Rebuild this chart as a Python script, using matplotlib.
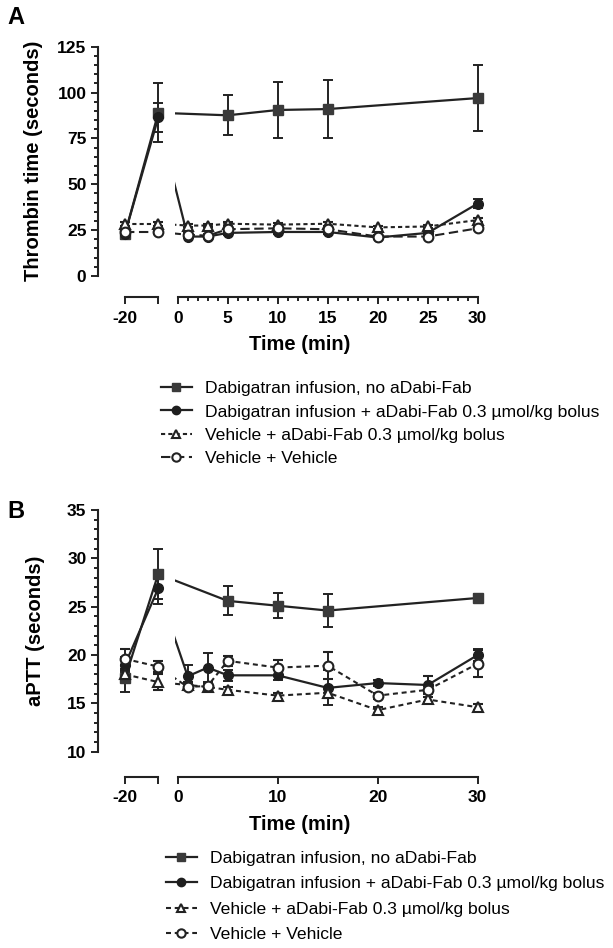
import numpy as np
import matplotlib
matplotlib.use("Agg")
import matplotlib.pyplot as plt
from matplotlib.lines import Line2D
from matplotlib.ticker import MultipleLocator

plt.rcParams['font.family'] = ['Liberation Sans', 'DejaVu Sans']

W, H = 613, 948

# time points (min); -2 = end of dabigatran infusion, just before the bolus
t_all = [-20, -2, 1, 3, 5, 10, 15, 20, 25, 30]
t_sq = [-20, -2, 5, 10, 15, 30]

labels = ["Dabigatran infusion, no aDabi-Fab",
          "Dabigatran infusion + aDabi-Fab 0.3 \u00b5mol/kg bolus",
          "Vehicle + aDabi-Fab 0.3 \u00b5mol/kg bolus",
          "Vehicle + Vehicle"]

# panel A - thrombin time (s)
tt_sq = [23, 89, 87.6, 90.5, 91, 97]
tt_sq_err = [1, 16, 11, 15.5, 15.7, 18]
tt_fc = [23, 86.5, 21.5, 21.5, 23.5, 24, 24, 21, 23.5, 39.5]
tt_fc_err = [1, 8, 1, 1, 1, 1, 1, 1, 1, 2.5]
tt_tri = [28.5, 28.5, 27.5, 27.5, 28.5, 28, 28.5, 26.5, 27, 30.5]
tt_tri_err = [1, 1, 1, 1, 1, 1, 1, 1, 1, 1]
tt_oc = [24, 24, 22.5, 22, 25.5, 26, 25.5, 21.5, 21.5, 26]
tt_oc_err = [1, 1, 1, 1, 1, 1, 1, 1, 1, 1]

# panel B - aPTT (s)
ap_sq = [17.6, 28.4, 25.6, 25.1, 24.6, 25.9]
ap_sq_err = [1.4, 2.6, 1.5, 1.3, 1.7, 0.4]
ap_fc = [19.0, 26.9, 17.8, 18.7, 17.9, 17.9, 16.6, 17.1, 16.9, 20.0]
ap_fc_err = [0.8, 1.6, 1.2, 1.5, 0.6, 0.5, 1.8, 0.3, 0.9, 0.6]
ap_tri = [18.0, 17.2, 16.9, 16.7, 16.4, 15.8, 16.1, 14.3, 15.4, 14.6]
ap_tri_err = [0.5, 0.8, 0.3, 0.3, 0.3, 0.3, 0.5, 0.3, 0.3, 0.3]
ap_oc = [19.6, 18.8, 16.7, 16.8, 19.4, 18.7, 18.9, 15.8, 16.4, 19.1]
ap_oc_err = [1.0, 0.6, 0.3, 0.3, 0.5, 0.8, 1.4, 0.3, 1.4, 1.4]

INK = '#222222'


def styles(oc_dash, tri_dash):
    return [
        dict(marker='s', ms=7, mfc='#3a3a3a', mec='#3a3a3a', ls='-', lw=1.6),
        dict(marker='o', ms=7, mfc='#1e1e1e', mec='#1e1e1e', ls='-', lw=1.6),
        dict(marker='^', ms=7, mfc='white', mec=INK, mew=1.5, ls=(0, tri_dash), lw=1.5),
        dict(marker='o', ms=7, mfc='white', mec=INK, mew=1.5, ls=(0, oc_dash), lw=1.5),
    ]


def px_axes(fig, x0, y0, x1, y1):
    return fig.add_axes([x0 / W, 1 - y1 / H, (x1 - x0) / W, (y1 - y0) / H])


def draw_panel(fig, ytop, ybot, ylim, ymajor, yminor, xmajor, xminor, offset, xpad, series, sty):
    ax_l = px_axes(fig, 98.3, ytop, 162, ybot)
    ax_r = px_axes(fig, 174.7, ytop, 487.7, ybot)
    ax_r.patch.set_visible(False)
    for (t, v, e), st in zip(series, sty):
        t = np.array(t, float)
        v = np.array(v, float)
        e = np.array(e, float)
        left = t <= -2
        right = t >= -2
        for ax, m, clip in ((ax_l, left, False), (ax_r, right, True)):
            c = ax.errorbar(t[m], v[m], yerr=e[m], color=INK, capsize=3.5,
                            elinewidth=1.4, capthick=1.4, **st)
            for a in c.get_children():
                a.set_clip_on(clip)
    for ax in (ax_l, ax_r):
        ax.set_ylim(*ylim)
        ax.spines['top'].set_visible(False)
        ax.spines['right'].set_visible(False)
        ax.spines['bottom'].set_position(('outward', offset))
        for s in ax.spines.values():
            s.set_linewidth(1.5)
            s.set_color(INK)
        ax.tick_params(which='both', width=1.4, color=INK, labelsize=12.5)
        ax.tick_params(which='major', length=5)
        ax.tick_params(which='minor', length=2.8)
        ax.tick_params(axis='x', which='major', pad=xpad)
    ax_l.set_xlim(-34.4, 0)
    ax_l.spines['bottom'].set_bounds(-20, -2)
    ax_l.set_xticks([-20, -2])
    ax_l.set_xticklabels(['-20', ''])
    ax_l.yaxis.set_major_locator(MultipleLocator(ymajor))
    ax_l.yaxis.set_minor_locator(MultipleLocator(yminor))
    ax_r.set_xlim(-0.3, 31)
    ax_r.spines['left'].set_visible(False)
    ax_r.spines['bottom'].set_bounds(0, 30)
    ax_r.set_yticks([])
    ax_r.set_xticks(np.arange(0, 31, xmajor))
    if xminor:
        ax_r.set_xticks(np.arange(0, 31, xminor), minor=True)
    for ax in (ax_l, ax_r):
        for lab in ax.get_xticklabels() + ax.get_yticklabels():
            lab.set_fontweight('bold')
    return ax_l, ax_r


fig = plt.figure(figsize=(W / 100, H / 100), dpi=100)

sty_a = styles((4.5, 2.2), (2.0, 1.5))
series_a = [(t_sq, tt_sq, tt_sq_err), (t_all, tt_fc, tt_fc_err),
            (t_all, tt_tri, tt_tri_err), (t_all, tt_oc, tt_oc_err)]
draw_panel(fig, 46.7, 276, (0, 125), 25, 5, 5, 1, 14.9, 5.5, series_a, sty_a)

sty_b = styles((2.4, 1.8), (2.4, 1.8))
series_b = [(t_sq, ap_sq, ap_sq_err), (t_all, ap_fc, ap_fc_err),
            (t_all, ap_tri, ap_tri_err), (t_all, ap_oc, ap_oc_err)]
draw_panel(fig, 510, 751.7, (10, 35), 5, 1, 10, None, 18, 4.5, series_b, sty_b)

# axis titles and panel letters
fig.text(34 / W, 1 - 161 / H, 'Thrombin time (seconds)', rotation=90, ha='center', va='center',
         fontsize=14.5, fontweight='bold')
fig.text(36 / W, 1 - 631 / H, 'aPTT (seconds)', rotation=90, ha='center', va='center',
         fontsize=14.5, fontweight='bold')
fig.text(300 / W, 1 - 345 / H, 'Time (min)', ha='center', va='center', fontsize=14.5, fontweight='bold')
fig.text(300 / W, 1 - 825 / H, 'Time (min)', ha='center', va='center', fontsize=14.5, fontweight='bold')
fig.text(16 / W, 1 - 18 / H, 'A', ha='center', va='center', fontsize=17, fontweight='bold')
fig.text(16 / W, 1 - 511 / H, 'B', ha='center', va='center', fontsize=17, fontweight='bold')


def legend_handles(sty):
    hs = []
    for st in sty:
        hs.append(Line2D([], [], color=INK, markersize=6, marker=st['marker'], mfc=st['mfc'],
                         mec=st['mec'], mew=st.get('mew', 1), ls=st['ls'], lw=st['lw']))
    return hs


fig.legend(legend_handles(sty_a), labels, loc='upper left', bbox_to_anchor=(161 / W, 1 - 381 / H),
           frameon=False, fontsize=12.6, handlelength=1.75, handletextpad=0.75, labelspacing=0.46,
           borderpad=0, borderaxespad=0)
fig.legend(legend_handles(sty_b), labels, loc='upper left', bbox_to_anchor=(166 / W, 1 - 851 / H),
           frameon=False, fontsize=12.6, handlelength=1.75, handletextpad=0.75, labelspacing=0.57,
           borderpad=0, borderaxespad=0)

fig.savefig('out.png', dpi=100)
